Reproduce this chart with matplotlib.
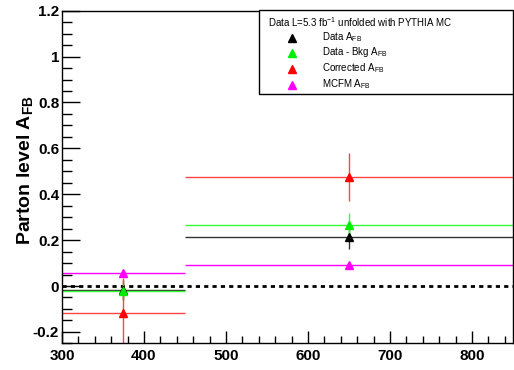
import numpy as np
import matplotlib
matplotlib.use('agg')
import matplotlib.pyplot as plt
from matplotlib.ticker import MultipleLocator

# bins in mtt
bin_lo = [300, 450]
bin_hi = [450, 850]
bin_c = [375, 650]

# asymmetry values and errors per series
data_afb = [-0.017, 0.213]
data_err = [0.045, 0.05]
bkgsub_afb = [-0.022, 0.265]
bkgsub_err = [0.04, 0.055]
corr_afb = [-0.116, 0.476]
corr_err = [0.15, 0.105]
mcfm_afb = [0.055, 0.09]
mcfm_err = [0.0, 0.0]

series = [
    ("Data A$_{\\mathrm{FB}}$", data_afb, data_err, "black", "#333333"),
    ("Data - Bkg A$_{\\mathrm{FB}}$", bkgsub_afb, bkgsub_err, "#00ee00", "#33ff33"),
    ("Corrected A$_{\\mathrm{FB}}$", corr_afb, corr_err, "red", "#ff4444"),
    ("MCFM A$_{\\mathrm{FB}}$", mcfm_afb, mcfm_err, "magenta", "magenta"),
]

plt.rcParams['font.family'] = ['Liberation Sans', 'DejaVu Sans']
plt.rcParams['mathtext.fontset'] = 'custom'
plt.rcParams['mathtext.rm'] = 'Liberation Sans'
plt.rcParams['mathtext.bf'] = 'Liberation Sans:bold'

fig = plt.figure(figsize=(5.14, 3.70), dpi=100)
ax = fig.add_axes([0.1206, 0.072, 0.8774, 0.899])

ax.axhline(0, color='black', linestyle=(0, (1.5, 1.5)), linewidth=2, zorder=1)

handles = []
for label, vals, errs, mcol, lcol in series:
    for lo, hi, c, v, e in zip(bin_lo, bin_hi, bin_c, vals, errs):
        ax.hlines(v, lo, hi, color=lcol, linewidth=1, zorder=2)
        if e > 0:
            ax.vlines(c, v - e, v + e, color=lcol, linewidth=1, zorder=2)
    h = ax.plot(bin_c, vals, linestyle='none', marker='^', markersize=6,
                color=mcol, zorder=3)[0]
    handles.append((h, label))

ax.set_xlim(300, 850)
ax.set_ylim(-0.25, 1.2)
ax.xaxis.set_major_locator(MultipleLocator(100))
ax.xaxis.set_minor_locator(MultipleLocator(20))
ax.yaxis.set_major_locator(MultipleLocator(0.2))
ax.yaxis.set_minor_locator(MultipleLocator(0.05))
ax.set_yticks([-0.2, 0, 0.2, 0.4, 0.6, 0.8, 1.0, 1.2])
ax.set_yticklabels(['-0.2', '0', '0.2', '0.4', '0.6', '0.8', '1', '1.2'])
ax.tick_params(axis='x', which='major', direction='in', length=9, width=1,
               labelsize=11, pad=4)
ax.tick_params(axis='x', which='minor', direction='in', length=5, width=1)
ax.tick_params(axis='y', which='major', direction='in', length=13, width=1,
               labelsize=11, pad=2)
ax.tick_params(axis='y', which='minor', direction='in', length=7, width=1)
for lab in ax.get_xticklabels() + ax.get_yticklabels():
    lab.set_fontweight('bold')
for s in ax.spines.values():
    s.set_linewidth(1)

ax.set_ylabel("Parton level A$_{\\mathbf{FB}}$", fontsize=14, fontweight='bold')
ax.yaxis.set_label_coords(-0.058, 0.52)

# legend box
box = plt.Rectangle((259 / 514, 1 - 94 / 370), (513 - 259) / 514, (94 - 10) / 370,
                    transform=fig.transFigure, facecolor='white', edgecolor='black',
                    linewidth=1, zorder=5)
fig.patches.append(box)
fig.text(268 / 514, 1 - 22 / 370, "Data L=5.3 fb$^{-1}$ unfolded with PYTHIA MC",
         fontsize=7, va='center', ha='left', zorder=6)
rows_y = [38, 53, 69, 85]
for (h, label), yy in zip(handles, rows_y):
    fig.lines.append(plt.Line2D([292 / 514], [1 - yy / 370], marker='^', markersize=6,
                                color=h.get_color(), linestyle='none',
                                transform=fig.transFigure, zorder=6))
    fig.text(322 / 514, 1 - (yy - 1) / 370, label, fontsize=7, va='center',
             ha='left', zorder=6)

fig.savefig('out.png', dpi=100)
